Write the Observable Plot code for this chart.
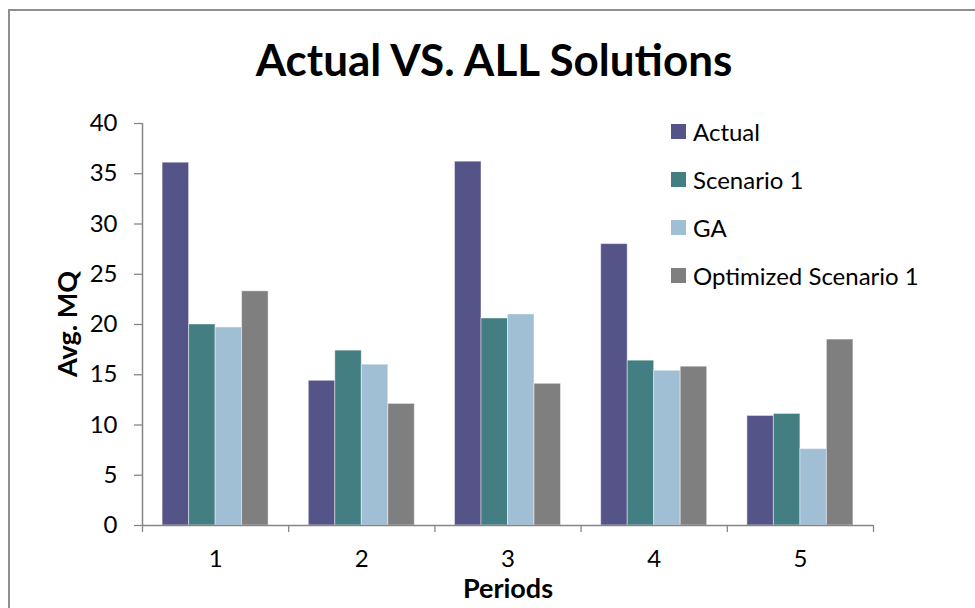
<!DOCTYPE html>
<html><head><meta charset="utf-8">
<script src="https://cdn.jsdelivr.net/npm/d3@7"></script>
<script src="https://cdn.jsdelivr.net/npm/@observablehq/plot@0.6"></script>
<style>
body{margin:0;background:#fff;font-family:Lato,sans-serif;color:#000}
#wrap{position:relative;width:975px;height:608px;overflow:hidden;background:#fff}
#frame{position:absolute;left:8px;top:9px;width:2000px;height:2000px;border-left:2px solid #8e8e8e;border-top:2px solid #8e8e8e;box-sizing:border-box}
#chart{position:absolute;left:0;top:0}
#title{position:absolute;left:0;width:988px;top:37px;text-align:center;font-weight:700;font-size:44px;line-height:1;white-space:nowrap}
#ylab{position:absolute;left:66px;top:324px;transform:translate(-50%,-50%) rotate(-90deg);font-weight:700;font-size:27px;line-height:1;white-space:nowrap}
#xlab{position:absolute;left:508px;top:574px;transform:translateX(-50%);font-weight:700;font-size:27px;line-height:1;white-space:nowrap}
#legend{position:absolute;left:671px;top:107px;font-size:24px}
.item{display:flex;align-items:center;height:48px;white-space:nowrap}
.sw{width:15px;height:15px;margin-right:7px;flex:none}
</style></head>
<body>
<div id="wrap">
  <div id="frame"></div>
  <div id="chart"></div>
  <div id="title">Actual VS. ALL Solutions</div>
  <div id="ylab">Avg. MQ</div>
  <div id="xlab">Periods</div>
  <div id="legend"></div>
</div>
<script>
const periods = [1, 2, 3, 4, 5];
const series = ["Actual", "Scenario 1", "GA", "Optimized Scenario 1"];
const actual = [36.1, 14.4, 36.2, 28.0, 10.9];
const scenario1 = [20.0, 17.4, 20.6, 16.4, 11.1];
const ga = [19.7, 16.0, 21.0, 15.4, 7.6];
const optimized = [23.3, 12.1, 14.1, 15.8, 18.5];
const yTicks = [0, 5, 10, 15, 20, 25, 30, 35, 40];
const colors = ["#545488", "#427E82", "#A0BFD5", "#7F7F7F"];

const valuesBySeries = [actual, scenario1, ga, optimized];
const data = series.flatMap((s, k) => valuesBySeries[k].map((v, i) => ({period: periods[i], series: s, k, value: v})));
const boundaries = [periods[0] - 0.5, ...periods.map(p => p + 0.5)];

const gap = 0.275;
const bw = (1 - gap) / series.length;

const chart = Plot.plot({
  width: 975,
  height: 608,
  marginLeft: 142,
  marginRight: 102,
  marginTop: 123,
  marginBottom: 83,
  x: {domain: [boundaries[0], boundaries[boundaries.length - 1]]},
  y: {domain: [0, 40]},
  color: {domain: series, range: colors},
  style: {fontFamily: "Lato, sans-serif", fontSize: "24px", color: "#000", background: "transparent", overflow: "visible"},
  marks: [
    Plot.rectY(data, {
      x1: d => d.period - 0.5 + gap / 2 + d.k * bw,
      x2: d => d.period - 0.5 + gap / 2 + (d.k + 1) * bw,
      y1: 0,
      y2: "value",
      fill: "series",
      stroke: "#ffffff",
      strokeOpacity: 0.45,
      strokeWidth: 1
    }),
    Plot.axisY({ticks: yTicks, tickSize: 8, tickPadding: 17, stroke: "#868686", strokeWidth: 1.3, label: null, fill: "#000"}),
    Plot.ruleX([boundaries[0]], {y1: 0, y2: 40, stroke: "#868686", strokeWidth: 1.5}),
    Plot.ruleY([0], {stroke: "#868686", strokeWidth: 1.5}),
    Plot.axisX({ticks: boundaries, tickSize: 7, tickFormat: () => "", stroke: "#868686", strokeWidth: 1.3, label: null}),
    Plot.axisX({ticks: periods, tickSize: 0, tickPadding: 24, tickFormat: "d", label: null, fill: "#000"})
  ]
});
document.getElementById("chart").appendChild(chart);

const legend = document.getElementById("legend");
series.forEach((s, k) => {
  const item = document.createElement("div");
  item.className = "item";
  const sw = document.createElement("span");
  sw.className = "sw";
  sw.style.background = colors[k];
  const t = document.createElement("span");
  t.textContent = s;
  item.appendChild(sw);
  item.appendChild(t);
  legend.appendChild(item);
});
</script>
</body></html>
